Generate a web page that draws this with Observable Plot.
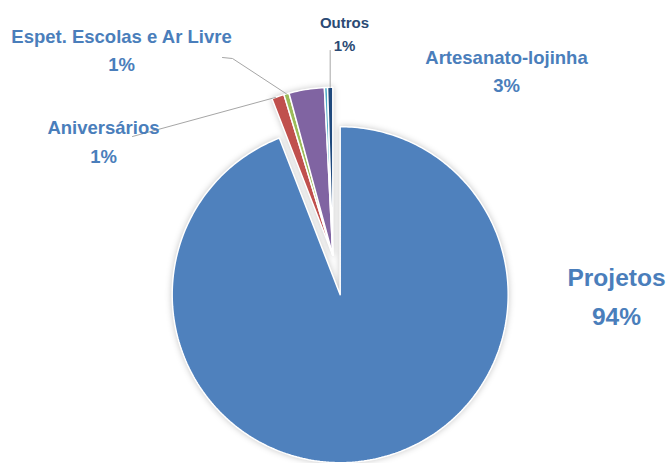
<!DOCTYPE html>
<html>
<head>
<meta charset="utf-8">
<script src="https://cdn.jsdelivr.net/npm/d3@7"></script>
<script src="https://cdn.jsdelivr.net/npm/@observablehq/plot@0.6"></script>
<style>
  html, body { margin: 0; padding: 0; background: #fff; }
  #chart svg { display: block; }
</style>
</head>
<body>
<div id="chart"></div>
<script>
// ---- data ----
const categories = ["Projetos", "Aniversários", "Espet. Escolas e Ar Livre", "Artesanato-lojinha", "Outros (ciano)", "Outros"];
const values = [94.1, 1.2, 0.5, 3.4, 0.3, 0.5];
const pctLabels = ["94%", "1%", "1%", "3%", "", "1%"];
const colors = ["#4F81BD", "#C0504D", "#9BBB59", "#8064A2", "#4BACC6", "#1F497D"];

// ---- layout ----
const W = 668, H = 463;
const CX = 336, CY = 274.5, R = 168, EXPLODE = 20;
const ux = px => (px - CX) / R;
const uy = py => (CY - py) / R;

const arcs = d3.pie().sort(null).value(d => d)(values);
const groupOf = i => (i === 0 ? 0 : 1);
const groupMid = [
  (arcs[0].startAngle + arcs[0].endAngle) / 2,
  (arcs[1].startAngle + arcs[arcs.length - 1].endAngle) / 2
];
const offsets = groupMid.map(m => [Math.sin(m) * EXPLODE / R, Math.cos(m) * EXPLODE / R]);

// slice outlines built from pie angles
const slicePts = [];
arcs.forEach((a, i) => {
  const [ox, oy] = offsets[groupOf(i)];
  const name = categories[i];
  slicePts.push({name, x: ox, y: oy});
  const n = Math.max(2, Math.ceil((a.endAngle - a.startAngle) / (Math.PI / 180)));
  for (let k = 0; k <= n; k++) {
    const t = a.startAngle + (a.endAngle - a.startAngle) * k / n;
    slicePts.push({name, x: ox + Math.sin(t), y: oy + Math.cos(t)});
  }
  slicePts.push({name, x: ox, y: oy});
});

function rim(i, frac = 0.5) {
  const a = arcs[i];
  const t = a.startAngle + (a.endAngle - a.startAngle) * frac;
  const [ox, oy] = offsets[groupOf(i)];
  return [ox + Math.sin(t), oy + Math.cos(t)];
}

// leader lines (slice rim -> label)
const leaders = [];
{
  const [x0, y0] = rim(5);
  leaders.push({id: "Outros", x: x0, y: y0}, {id: "Outros", x: x0, y: uy(50)});
  const [x1, y1] = rim(2);
  leaders.push({id: "Espet", x: x1, y: y1}, {id: "Espet", x: ux(232), y: uy(58)}, {id: "Espet", x: ux(222), y: uy(57)});
  const [x2, y2] = rim(1, 0.3);
  leaders.push({id: "Aniv", x: x2, y: y2}, {id: "Aniv", x: ux(132), y: uy(136)});
}

// label placement (layout)
const labelPos = {
  "Projetos": [616, 292.5],
  "Aniversários": [103, 139],
  "Espet. Escolas e Ar Livre": [121, 47.5],
  "Artesanato-lojinha": [506, 68.5],
  "Outros": [344, 31.5]
};
const labels = categories
  .map((c, i) => ({c, i}))
  .filter(d => labelPos[d.c])
  .map(d => ({
    text: d.c + "\n" + pctLabels[d.i],
    x: ux(labelPos[d.c][0]),
    y: uy(labelPos[d.c][1]),
    kind: d.c === "Projetos" ? "big" : d.c === "Outros" ? "small" : "normal"
  }));

const FONT = "Liberation Sans, Arial, sans-serif";

const chart = Plot.plot({
  width: W,
  height: H,
  margin: 0,
  style: {fontFamily: FONT, background: "#fff"},
  x: {domain: [ux(0), ux(W)], axis: null},
  y: {domain: [uy(H), uy(0)], axis: null},
  color: {domain: categories, range: colors},
  marks: [
    Plot.line(slicePts, {x: "x", y: "y", z: "name", fill: "name", stroke: "white", strokeWidth: 1.5, strokeLinejoin: "miter"}),
    Plot.line(leaders, {x: "x", y: "y", z: "id", stroke: "#A6A6A6", strokeWidth: 1}),
    Plot.text(labels.filter(d => d.kind === "normal"), {x: "x", y: "y", text: "text", fill: "#4A7EBB", fontSize: 18.5, fontWeight: "bold", lineHeight: 1.52, lineAnchor: "middle", textAnchor: "middle"}),
    Plot.text(labels.filter(d => d.kind === "big"), {x: "x", y: "y", text: "text", fill: "#4A7EBB", fontSize: 24.5, fontWeight: "bold", lineHeight: 1.6, lineAnchor: "middle", textAnchor: "middle"}),
    Plot.text(labels.filter(d => d.kind === "small"), {x: "x", y: "y", text: "text", fill: "#2B4A74", fontSize: 15, fontWeight: "bold", lineHeight: 1.55, lineAnchor: "middle", textAnchor: "middle"})
  ]
});
const pieG = chart.querySelector('g[aria-label="line"]');
if (pieG) pieG.style.filter = "drop-shadow(0px 0px 3px rgba(0,0,0,0.22))";
document.getElementById("chart").appendChild(chart);
</script>
</body>
</html>
